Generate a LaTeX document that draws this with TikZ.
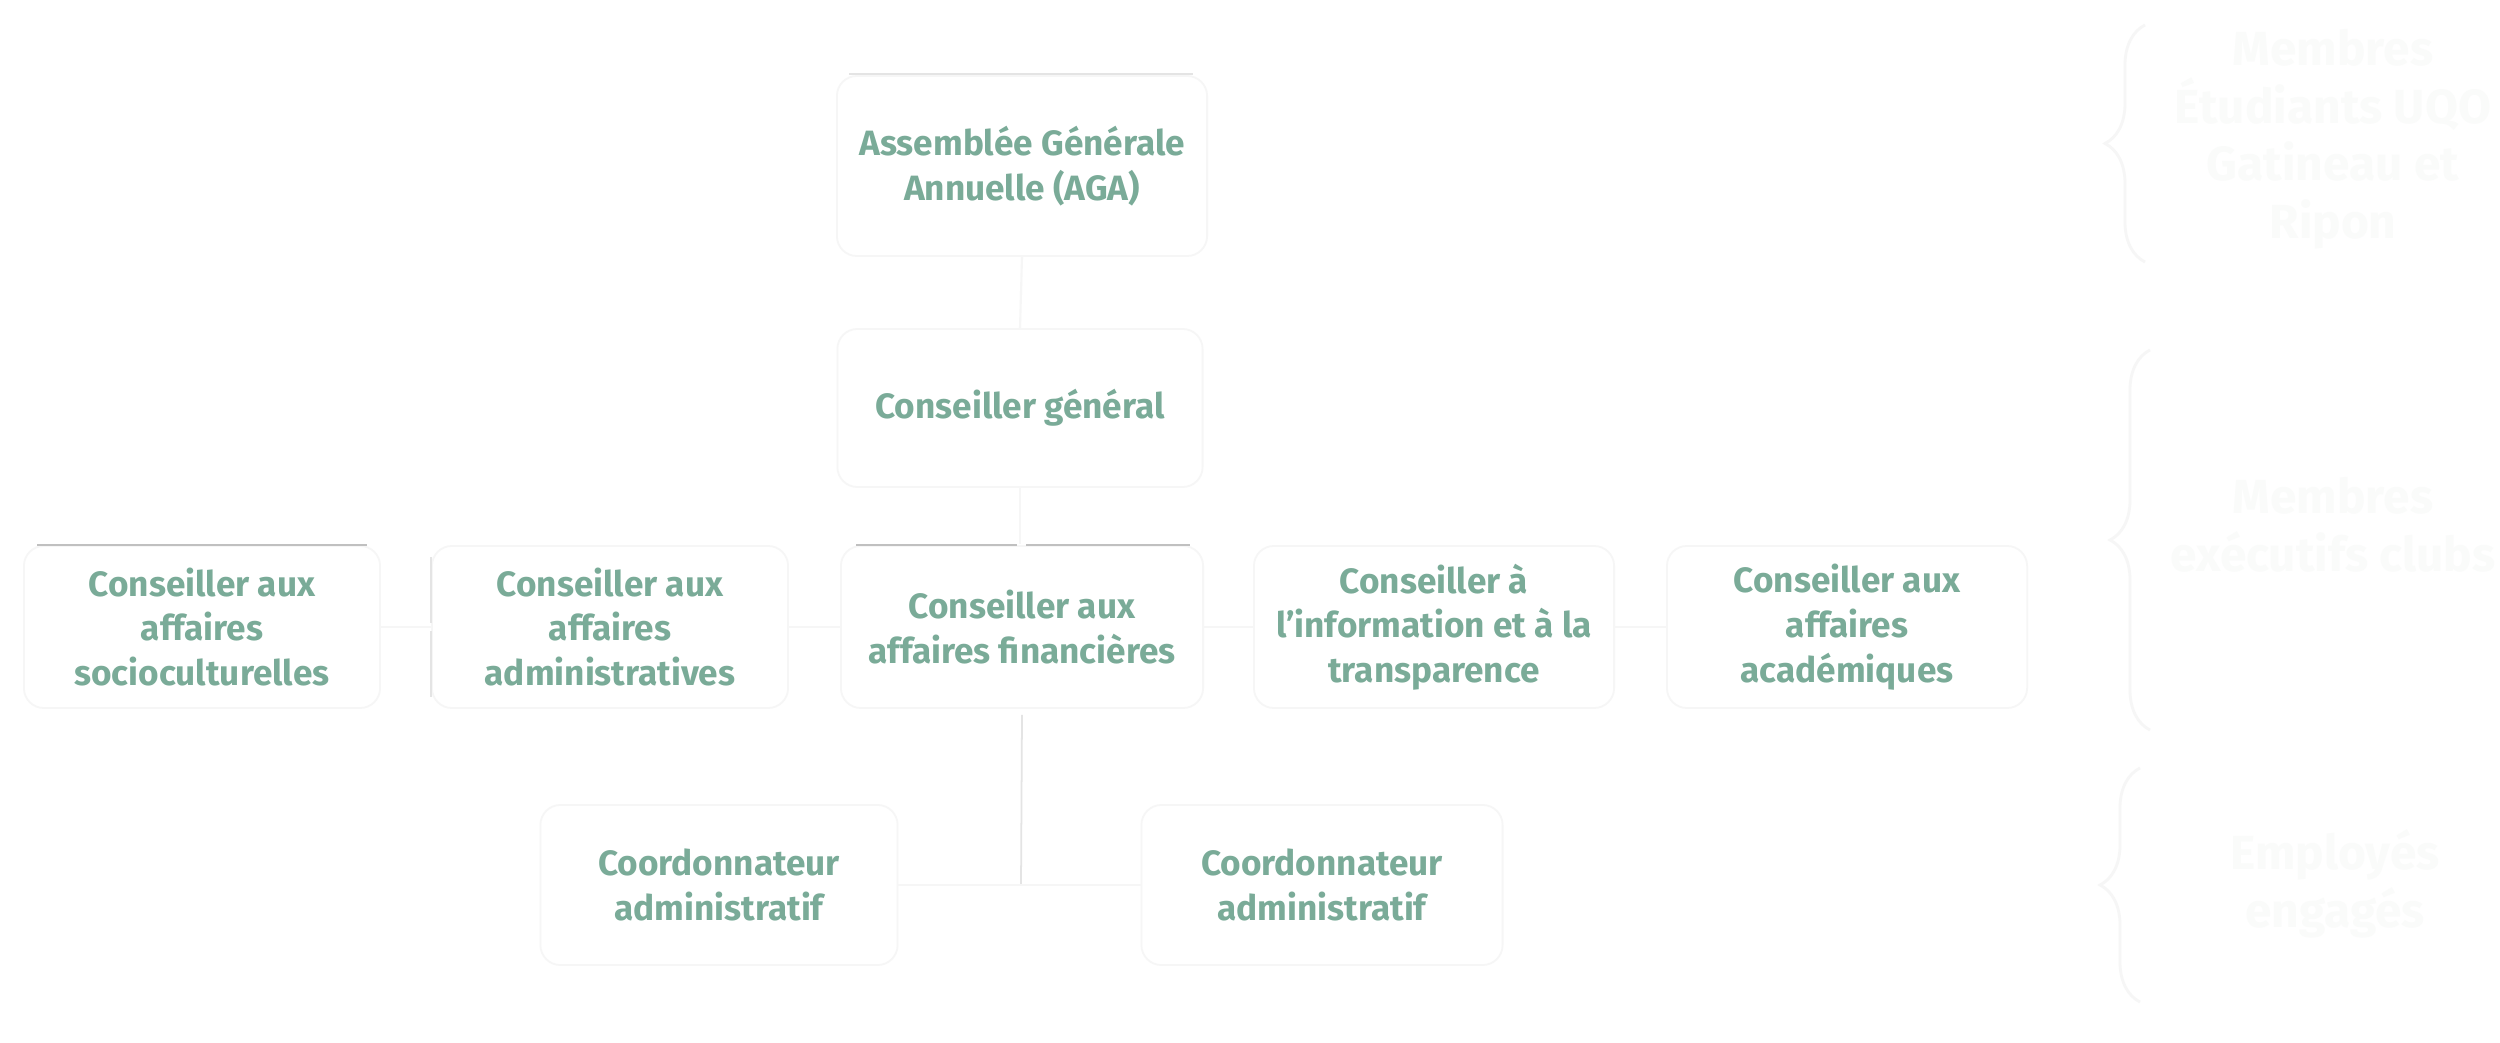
\documentclass[tikz,border=0pt]{standalone}
\usepackage{fontspec}
\setmainfont{Fira Sans}
\usetikzlibrary{calc,decorations.pathreplacing}
\definecolor{txtgreen}{RGB}{122,171,152}
\definecolor{ghost}{RGB}{250,251,250}
\definecolor{faint}{RGB}{246,246,246}
\definecolor{edge}{RGB}{228,228,228}
\definecolor{topedge}{RGB}{192,192,192}
\tikzset{
  card/.style={draw=faint, line width=0.5pt, fill=white, rounded corners=0.2cm,
    inner sep=0pt, minimum height=1.62cm, align=center, text=txtgreen,
    font=\fontsize{10}{12.7}\selectfont\bfseries},
  ghosttext/.style={align=center, text=ghost, inner sep=0pt,
    font=\fontsize{13.6}{16.4}\selectfont\bfseries},
  conn/.style={draw=faint, line width=0.6pt},
  vconn/.style={draw=edge, line width=0.5pt},
  topline/.style={draw=topedge, line width=0.5pt},
  bracestyle/.style={draw=faint, line width=0.8pt,
    decorate, decoration={brace, amplitude=0.4cm}},
}
\begin{document}
\begin{tikzpicture}[x=0.01cm, y=-0.01cm]
\useasboundingbox[fill=white] (0,0) rectangle (2500,1043);

% top level
\node[card, minimum width=3.7cm, minimum height=1.8cm] (aga) at (1022,166)
  {Assemblée Générale\\Annuelle (AGA)};
\node[card, minimum width=3.65cm, minimum height=1.58cm] (cg) at (1020,408)
  {Conseiller général};

% second row
\node[card, minimum width=3.56cm] (socio) at (202,627)
  {Conseiller aux\\affaires\\socioculturelles};
\node[card, minimum width=3.56cm] (admin) at (610,627)
  {Conseiller aux\\affaires\\administratives};
\node[card, minimum width=3.62cm] (fin) at (1022,627)
  {Conseiller aux\\affaires financières};
\node[card, minimum width=3.6cm] (info) at (1434,627)
  {Conseiller à\\l’information et à la\\transparence};
\node[card, minimum width=3.6cm] (acad) at (1847,627)
  {Conseiller aux\\affaires\\académiques};

% third row
\node[card, minimum width=3.57cm, minimum height=1.6cm] (coordL) at (719,885)
  {Coordonnateur\\administratif};
\node[card, minimum width=3.61cm, minimum height=1.6cm] (coordR) at (1322,885)
  {Coordonnateur\\administratif};

% connectors
\draw[conn] (aga.south) -- (cg.north);
\coordinate (rowtop) at (1020,544);
\draw[conn] (cg.south) -- (rowtop);
\draw[conn] (socio.east) -- (admin.west);
\draw[conn] (admin.east) -- (fin.west);
\draw[conn] (fin.east) -- (info.west);
\draw[conn] (info.east) -- (acad.west);
\coordinate (finlow) at (1021,885);
\draw[vconn] ($(fin.south)+(0,6)$) -- (finlow);
\draw[conn] (coordL.east) -- (coordR.west);

% top highlight lines
\draw[topline] ($(socio.north west)+(14,0)$) -- ($(socio.north east)+(-14,0)$);
\draw[topline] ($(fin.north west)+(16,0)$) -- ($(fin.north)+(-5,0)$);
\draw[topline] ($(fin.north)+(4,0)$) -- ($(fin.north east)+(-14,0)$);
\draw[draw=edge, line width=0.4pt] ($(aga.north west)+(13,-1)$) -- ($(aga.north east)+(-15,-1)$);
\draw[vconn] ($(admin.north west)+(0,12)$) -- ($(admin.west)+(0,-4)$);
\draw[vconn] ($(admin.west)+(0,4)$) -- ($(admin.south west)+(0,-12)$);

% right side
\draw[bracestyle] (2145,262) -- (2145,25);
\draw[bracestyle] (2150,730) -- (2150,350);
\draw[bracestyle] (2140,1002) -- (2140,768);
\node[ghosttext] (g1) at (2333,139) {Membres\\Étudiants UQO\\Gatineau et\\Ripon};
\node[ghosttext] (g2) at (2333,525) {Membres\\exécutifs clubs};
\node[ghosttext] (g3) at (2335,884) {Employés\\engagés};
\end{tikzpicture}
\end{document}
